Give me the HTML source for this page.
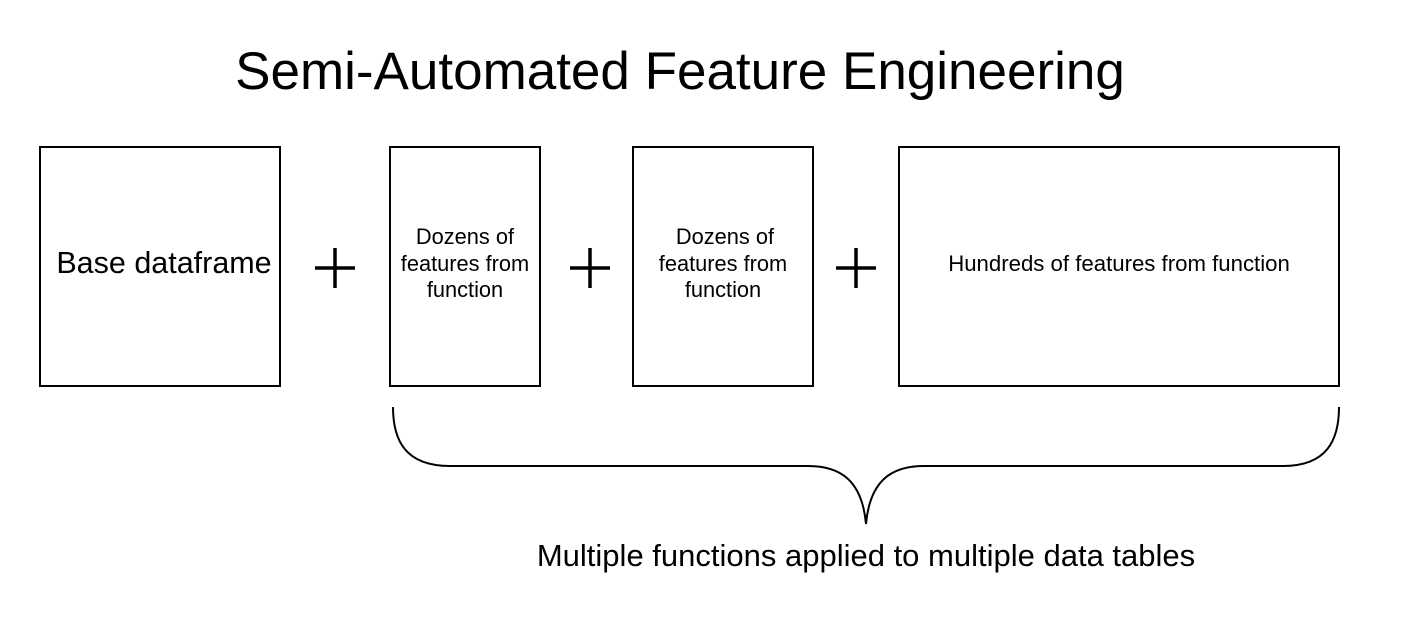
<!DOCTYPE html>
<html><head><meta charset="utf-8"><style>
html,body{margin:0;padding:0;background:#fff;}
svg{display:block;font-family:"Liberation Sans",sans-serif;}
</style></head><body>
<svg width="1421" height="632" viewBox="0 0 1421 632" xmlns="http://www.w3.org/2000/svg">
<rect width="1421" height="632" fill="#fff"/>
<text x="680" y="89" font-size="53" text-anchor="middle" fill="#000">Semi-Automated Feature Engineering</text>
<g fill="none" stroke="#000" stroke-width="2">
<rect x="40" y="147" width="240" height="239"/>
<rect x="390" y="147" width="150" height="239"/>
<rect x="633" y="147" width="180" height="239"/>
<rect x="899" y="147" width="440" height="239"/>
<path d="M393,407 C393,440 405,466 450,466 L808,466 C840,466 862,480 866,524 C870,480 892,466 924,466 L1283,466 C1327,466 1339,440 1339,407"/>
</g>
<g stroke="#000" stroke-width="3.5">
<line x1="315" y1="268" x2="355" y2="268"/><line x1="335" y1="248" x2="335" y2="288"/>
<line x1="570" y1="268" x2="610" y2="268"/><line x1="590" y1="248" x2="590" y2="288"/>
<line x1="836" y1="268" x2="876" y2="268"/><line x1="856" y1="248" x2="856" y2="288"/>
</g>
<g fill="#000" text-anchor="middle">
<text x="164" y="273" font-size="30.5">Base dataframe</text>
<text x="465" y="244" font-size="21.8">Dozens of</text>
<text x="465" y="271" font-size="21.8">features from</text>
<text x="465" y="297" font-size="21.8">function</text>
<text x="725" y="244" font-size="21.8">Dozens of</text>
<text x="723" y="271" font-size="21.8">features from</text>
<text x="723" y="297" font-size="21.8">function</text>
<text x="1119" y="271" font-size="22.2">Hundreds of features from function</text>
<text x="866" y="566" font-size="31">Multiple functions applied to multiple data tables</text>
</g>
</svg>
</body></html>
